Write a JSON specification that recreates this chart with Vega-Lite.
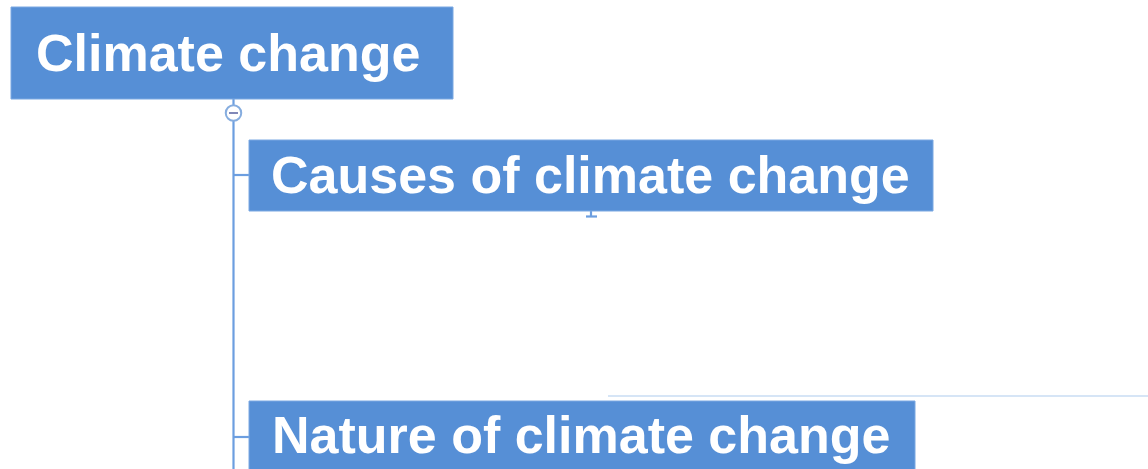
{
  "$schema": "https://vega.github.io/schema/vega-lite/v6.json",
  "width": 1148,
  "height": 469,
  "padding": 0,
  "autosize": {"type": "none"},
  "background": "white",
  "config": {"view": {"stroke": null}},
  "datasets": {
    "boxes": [
      {"node": "Climate change", "x0": 11, "x1": 453, "y0": 7, "y1": 99, "tx": 36, "ty": 71},
      {"node": "Causes of climate change", "x0": 249, "x1": 933, "y0": 140, "y1": 211, "tx": 271, "ty": 193},
      {"node": "Nature of climate change", "x0": 249, "x1": 915, "y0": 401, "y1": 475, "tx": 272, "ty": 453}
    ],
    "lines": [
      {"seg": "trunk", "x0": 233.5, "x1": 233.5, "y0": 120, "y1": 469},
      {"seg": "stub0", "x0": 233.5, "x1": 233.5, "y0": 99, "y1": 106},
      {"seg": "branch1", "x0": 233.5, "x1": 249, "y0": 175, "y1": 175},
      {"seg": "branch2", "x0": 233.5, "x1": 249, "y0": 437, "y1": 437},
      {"seg": "tick", "x0": 591, "x1": 591, "y0": 211, "y1": 216},
      {"seg": "tickbar", "x0": 586, "x1": 597, "y0": 216.5, "y1": 216.5}
    ],
    "faint": [
      {"x0": 608, "x1": 1148, "y0": 396, "y1": 396}
    ],
    "toggle": [
      {"x": 233.5, "y": 113}
    ],
    "minus": [
      {"x0": 229, "x1": 238, "y0": 113, "y1": 113}
    ]
  },
  "layer": [
    {
      "data": {"name": "faint"},
      "mark": {"type": "rule", "color": "#c9ddf3", "strokeWidth": 1.5},
      "encoding": {
        "x": {"field": "x0", "type": "quantitative", "scale": {"domain": [0, 1148], "nice": false, "zero": false}, "axis": null},
        "x2": {"field": "x1"},
        "y": {"field": "y0", "type": "quantitative", "scale": {"domain": [0, 469], "nice": false, "zero": false, "reverse": true}, "axis": null},
        "y2": {"field": "y1"}
      }
    },
    {
      "data": {"name": "lines"},
      "mark": {"type": "rule", "color": "#6c9ee0", "strokeWidth": 2.2},
      "encoding": {
        "x": {"field": "x0", "type": "quantitative", "scale": {"domain": [0, 1148], "nice": false, "zero": false}, "axis": null},
        "x2": {"field": "x1"},
        "y": {"field": "y0", "type": "quantitative", "scale": {"domain": [0, 469], "nice": false, "zero": false, "reverse": true}, "axis": null},
        "y2": {"field": "y1"}
      }
    },
    {
      "data": {"name": "boxes"},
      "mark": {"type": "rect", "color": "#568fd6", "stroke": "#7aa8e2", "strokeWidth": 1},
      "encoding": {
        "x": {"field": "x0", "type": "quantitative", "scale": {"domain": [0, 1148], "nice": false, "zero": false}, "axis": null},
        "x2": {"field": "x1"},
        "y": {"field": "y0", "type": "quantitative", "scale": {"domain": [0, 469], "nice": false, "zero": false, "reverse": true}, "axis": null},
        "y2": {"field": "y1"}
      }
    },
    {
      "data": {"name": "boxes"},
      "mark": {"type": "text", "align": "left", "baseline": "alphabetic", "font": "Liberation Sans", "fontWeight": "bold", "fontSize": 52, "color": "white"},
      "encoding": {
        "x": {"field": "tx", "type": "quantitative", "scale": {"domain": [0, 1148], "nice": false, "zero": false}, "axis": null},
        "y": {"field": "ty", "type": "quantitative", "scale": {"domain": [0, 469], "nice": false, "zero": false, "reverse": true}, "axis": null},
        "text": {"field": "node"}
      }
    },
    {
      "data": {"name": "toggle"},
      "mark": {"type": "point", "shape": "circle", "size": 240, "filled": true, "fill": "white", "stroke": "#86addf", "strokeWidth": 2, "opacity": 1},
      "encoding": {
        "x": {"field": "x", "type": "quantitative", "scale": {"domain": [0, 1148], "nice": false, "zero": false}, "axis": null},
        "y": {"field": "y", "type": "quantitative", "scale": {"domain": [0, 469], "nice": false, "zero": false, "reverse": true}, "axis": null}
      }
    },
    {
      "data": {"name": "minus"},
      "mark": {"type": "rule", "color": "#8088b8", "strokeWidth": 2},
      "encoding": {
        "x": {"field": "x0", "type": "quantitative", "scale": {"domain": [0, 1148], "nice": false, "zero": false}, "axis": null},
        "x2": {"field": "x1"},
        "y": {"field": "y0", "type": "quantitative", "scale": {"domain": [0, 469], "nice": false, "zero": false, "reverse": true}, "axis": null},
        "y2": {"field": "y1"}
      }
    }
  ]
}
